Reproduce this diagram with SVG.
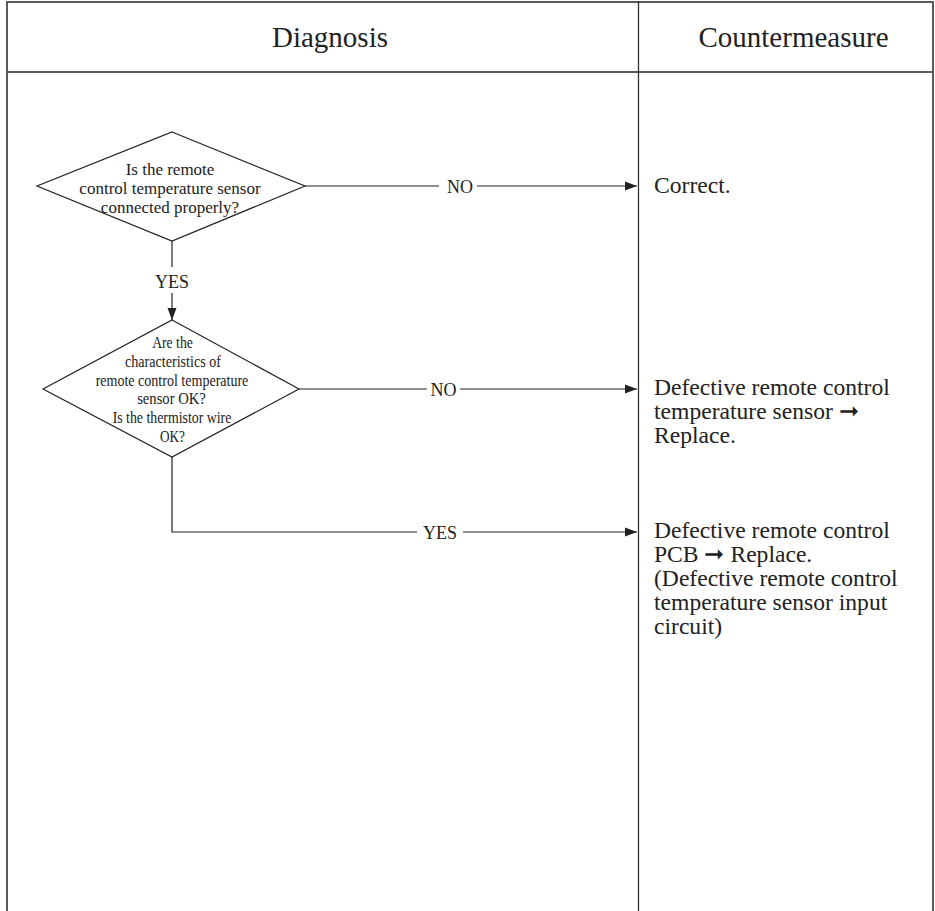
<svg xmlns="http://www.w3.org/2000/svg" width="935" height="911" viewBox="0 0 935 911">
<style>
.t{font-family:"Liberation Serif","Times New Roman",serif;fill:#222}
.h{font-size:29px;text-anchor:middle}
.d1{font-size:17px;text-anchor:middle}
.d2{font-size:16px;text-anchor:middle}
.lb{font-size:18px;text-anchor:middle}
.r{font-size:23.6px}
.frame{stroke:#5a5a5a;stroke-width:2;fill:none}
.col{stroke:#333;stroke-width:1.3;fill:none}
.shape{stroke:#222;stroke-width:1.2;fill:#fff}
.conn{stroke:#222;stroke-width:1.2;fill:none}
</style>
<defs>
<marker id="ah" markerWidth="12" markerHeight="10" refX="12" refY="5" orient="auto" markerUnits="userSpaceOnUse">
<path d="M0,0.5 L12,5 L0,9.5 Z" fill="#222"/>
</marker>
</defs>
<rect width="935" height="911" fill="#fff"/>
<g id="table">
<line class="frame" x1="6" y1="2" x2="934" y2="2"/>
<line class="frame" x1="6" y1="72" x2="934" y2="72"/>
<line class="frame" x1="7" y1="1" x2="7" y2="911"/>
<line class="col" x1="638.5" y1="1" x2="638.5" y2="911"/>
<line class="frame" x1="933" y1="1" x2="933" y2="911"/>
<text class="t h" x="330" y="47">Diagnosis</text>
<text class="t h" x="793.5" y="47">Countermeasure</text>
</g>
<g id="connectors">
<line class="conn" x1="305" y1="186" x2="439" y2="186"/>
<line class="conn" x1="477" y1="186" x2="637" y2="186" marker-end="url(#ah)"/>
<text class="t lb" x="460" y="193">NO</text>
<line class="conn" x1="172" y1="241" x2="172" y2="267"/>
<line class="conn" x1="172" y1="293" x2="172" y2="320" marker-end="url(#ah)"/>
<text class="t lb" x="172" y="288">YES</text>
<line class="conn" x1="299" y1="389" x2="427" y2="389"/>
<line class="conn" x1="460" y1="389" x2="637" y2="389" marker-end="url(#ah)"/>
<text class="t lb" x="443.5" y="396">NO</text>
<polyline class="conn" points="172,457 172,532 417,532"/>
<line class="conn" x1="463" y1="532" x2="637" y2="532" marker-end="url(#ah)"/>
<text class="t lb" x="440" y="539">YES</text>
</g>
<g id="q1">
<polygon class="shape" points="172,132 305,186 172,241 37,186"/>
<text class="t d1" x="170" y="175">Is the remote</text>
<text class="t d1" x="170" y="194">control temperature sensor</text>
<text class="t d1" x="170" y="212.5">connected properly?</text>
</g>
<g id="q2">
<polygon class="shape" points="172,320 299,389 172,457 43,389"/>
<text class="t d2" x="172.5" y="348" textLength="40.7" lengthAdjust="spacingAndGlyphs">Are the</text>
<text class="t d2" x="173" y="367" textLength="96" lengthAdjust="spacingAndGlyphs">characteristics of</text>
<text class="t d2" x="172" y="385.5" textLength="152.7" lengthAdjust="spacingAndGlyphs">remote control temperature</text>
<text class="t d2" x="171.5" y="404" textLength="68.7" lengthAdjust="spacingAndGlyphs">sensor OK?</text>
<text class="t d2" x="172" y="423" textLength="118.7" lengthAdjust="spacingAndGlyphs">Is the thermistor wire</text>
<text class="t d2" x="172.5" y="441.5" textLength="25" lengthAdjust="spacingAndGlyphs">OK?</text>
</g>
<g id="a1">
<text class="t r" x="654" y="193">Correct.</text>
</g>
<g id="a2">
<text class="t r" x="654" y="395">Defective remote control</text>
<text class="t r" x="654" y="419">temperature sensor ➞</text>
<text class="t r" x="654" y="443">Replace.</text>
</g>
<g id="a3">
<text class="t r" x="654" y="538">Defective remote control</text>
<text class="t r" x="654" y="562">PCB ➞ Replace.</text>
<text class="t r" x="654" y="586">(Defective remote control</text>
<text class="t r" x="654" y="610">temperature sensor input</text>
<text class="t r" x="654" y="633.5">circuit)</text>
</g>
</svg>
